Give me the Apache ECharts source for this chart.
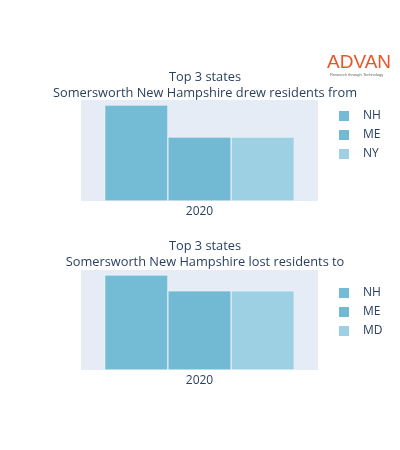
<!DOCTYPE html>
<html>
<head>
<meta charset="utf-8">
<script src="https://cdn.jsdelivr.net/npm/echarts@6/dist/echarts.min.js"></script>
<style>body{margin:0;background:#fff}#main{width:400px;height:450px}</style>
</head>
<body>
<div id="main"></div>
<script>
var years = ['2020'];
var fromStates = ['NH', 'ME', 'NY'];
var fromValues = [3, 2, 2];
var toStates = ['NH', 'ME', 'MD'];
var toValues = [6, 5, 5];
var colors = ['#74bcd6', '#72b9d4', '#9dd0e3'];

var font = 'Open Sans, Verdana, sans-serif';
var txt = '#2a3f5f';

function makeSeries(names, values, idx) {
    return names.map(function (n, i) {
        return {
            type: 'bar', name: n, xAxisIndex: idx, yAxisIndex: idx,
            data: [values[i]], barGap: '0%', barCategoryGap: '20%',
            itemStyle: { color: colors[i], borderColor: '#ffffff', borderWidth: 0.5 }
        };
    });
}

var titleStyle = { fontSize: 12.8, fontWeight: 'normal', color: txt, fontFamily: font, lineHeight: 16 };
var legendText = { color: txt, fontSize: 12, fontFamily: font, padding: [0, 0, 0, 8], lineHeight: 12 };

var option = {
    animation: false,
    title: [
        { text: 'Top 3 states\nSomersworth New Hampshire drew residents from', left: 200, top: 64, textAlign: 'center', textStyle: titleStyle },
        { text: 'Top 3 states\nSomersworth New Hampshire lost residents to', left: 200, top: 233, textAlign: 'center', textStyle: titleStyle }
    ],
    graphic: [
        { type: 'text', left: 327, top: 53, style: { text: 'ADVAN', fill: '#e8552a', font: '19px Liberation Sans' } },
        { type: 'text', left: 330, top: 73, style: { text: 'Research through Technology', fill: '#666', font: '4px sans-serif' } }
    ],
    legend: [
        { data: fromStates, orient: 'vertical', left: 337, top: 109, icon: 'rect', itemWidth: 12, itemHeight: 12, itemGap: 5,
          textStyle: legendText, selectedMode: false, padding: 0 },
        { data: toStates, orient: 'vertical', left: 337, top: 286, icon: 'rect', itemWidth: 12, itemHeight: 12, itemGap: 5,
          textStyle: legendText, selectedMode: false, padding: 0 }
    ],
    grid: [
        { left: 81, width: 237, top: 100, height: 101, backgroundColor: '#e5ecf6', show: true, borderWidth: 0 },
        { left: 81, width: 237, top: 270, height: 100, backgroundColor: '#e5ecf6', show: true, borderWidth: 0 }
    ],
    xAxis: [0, 1].map(function (i) {
        return { type: 'category', gridIndex: i, data: years, axisLine: { show: false }, axisTick: { show: false },
                 axisLabel: { color: txt, fontSize: 12, fontFamily: font, margin: 5 } };
    }),
    yAxis: [0, 1].map(function (i) {
        return { type: 'value', gridIndex: i, min: 0, max: function (v) { return v.max * 1.053; },
                 axisLabel: { show: false }, splitLine: { show: false }, axisLine: { show: false }, axisTick: { show: false } };
    }),
    series: makeSeries(fromStates, fromValues, 0).concat(makeSeries(toStates, toValues, 1))
};

var myChart = echarts.init(document.getElementById('main'));
myChart.setOption(option);
</script>
</body>
</html>
